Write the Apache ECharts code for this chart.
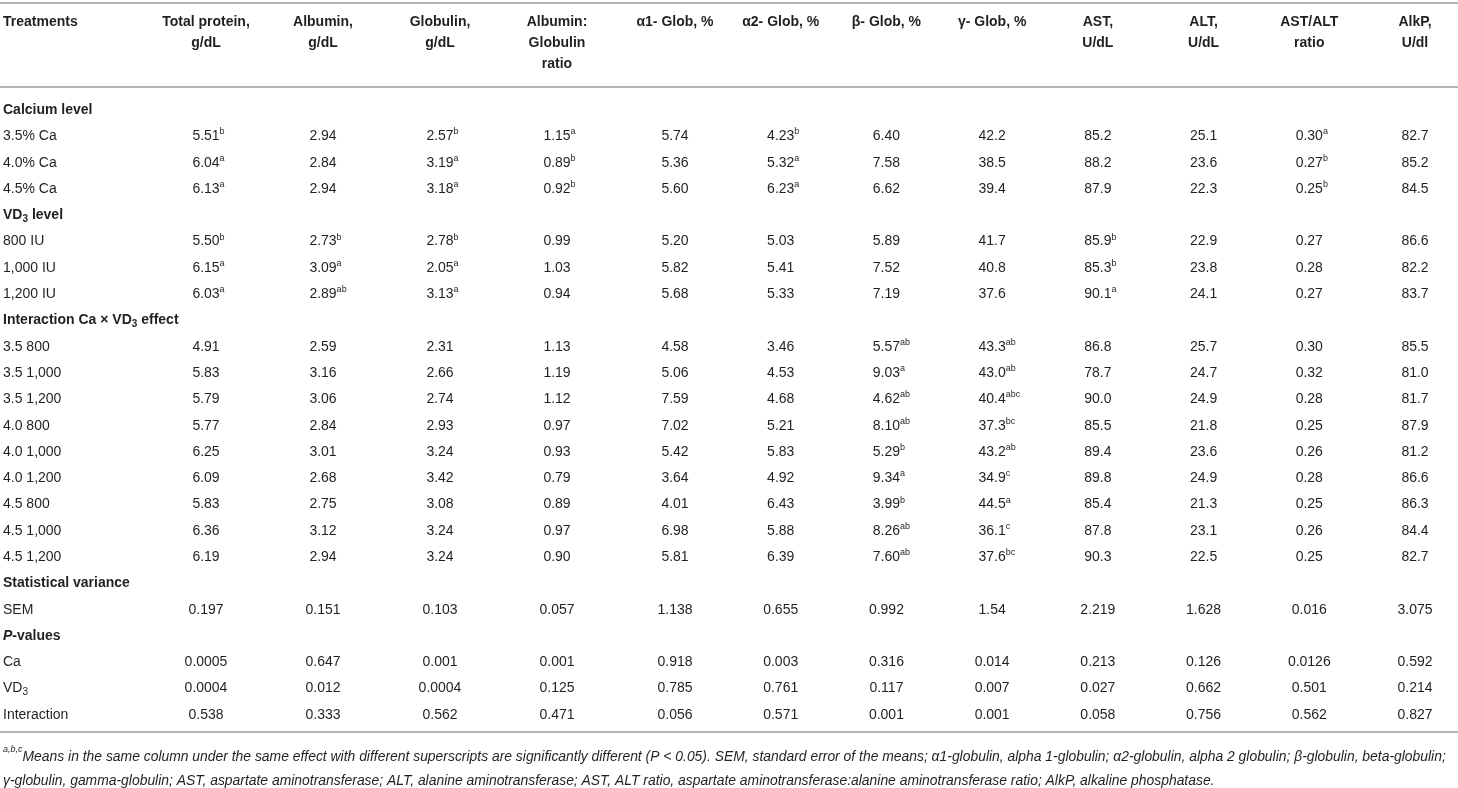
<!DOCTYPE html>
<html>
<head>
<meta charset="utf-8">
<script src="https://cdn.jsdelivr.net/npm/echarts@6.0.0/dist/echarts.min.js"></script>
<style>
  html, body { margin: 0; padding: 0; background: #fff; }
  #chart { width: 1458px; height: 788px; }
</style>
</head>
<body>
<div id="chart"></div>
<script>
const FONT = '"Liberation Sans", Arial, Helvetica, sans-serif';
const INK = '#231f20';

// column headers (first four are wider columns, rest narrower)
const headersLeft = ['Total protein,\ng/dL', 'Albumin,\ng/dL', 'Globulin,\ng/dL', 'Albumin:\nGlobulin\nratio'];
const headersRight = ['α1- Glob, %', 'α2- Glob, %', 'β- Glob, %', 'γ- Glob, %', 'AST,\nU/dL', 'ALT,\nU/dL', 'AST/ALT\nratio', 'AlkP,\nU/dl'];

// row groups
const sectionTitles = ['Calcium level', 'VD3 level', 'Interaction Ca × VD3 effect', 'Statistical variance', 'P-values'];
const sectionSizes = [3, 3, 9, 1, 3];
const rowLabels = [
  '3.5% Ca', '4.0% Ca', '4.5% Ca',
  '800 IU', '1,000 IU', '1,200 IU',
  '3.5 800', '3.5 1,000', '3.5 1,200', '4.0 800', '4.0 1,000', '4.0 1,200', '4.5 800', '4.5 1,000', '4.5 1,200',
  'SEM',
  'Ca', 'VD3', 'Interaction'
];

// values per column (trailing letters are superscripts)
const totalProtein = ['5.51b', '6.04a', '6.13a', '5.50b', '6.15a', '6.03a', '4.91', '5.83', '5.79', '5.77', '6.25', '6.09', '5.83', '6.36', '6.19', '0.197', '0.0005', '0.0004', '0.538'];
const albumin = ['2.94', '2.84', '2.94', '2.73b', '3.09a', '2.89ab', '2.59', '3.16', '3.06', '2.84', '3.01', '2.68', '2.75', '3.12', '2.94', '0.151', '0.647', '0.012', '0.333'];
const globulin = ['2.57b', '3.19a', '3.18a', '2.78b', '2.05a', '3.13a', '2.31', '2.66', '2.74', '2.93', '3.24', '3.42', '3.08', '3.24', '3.24', '0.103', '0.001', '0.0004', '0.562'];
const agRatio = ['1.15a', '0.89b', '0.92b', '0.99', '1.03', '0.94', '1.13', '1.19', '1.12', '0.97', '0.93', '0.79', '0.89', '0.97', '0.90', '0.057', '0.001', '0.125', '0.471'];
const alpha1 = ['5.74', '5.36', '5.60', '5.20', '5.82', '5.68', '4.58', '5.06', '7.59', '7.02', '5.42', '3.64', '4.01', '6.98', '5.81', '1.138', '0.918', '0.785', '0.056'];
const alpha2 = ['4.23b', '5.32a', '6.23a', '5.03', '5.41', '5.33', '3.46', '4.53', '4.68', '5.21', '5.83', '4.92', '6.43', '5.88', '6.39', '0.655', '0.003', '0.761', '0.571'];
const beta = ['6.40', '7.58', '6.62', '5.89', '7.52', '7.19', '5.57ab', '9.03a', '4.62ab', '8.10ab', '5.29b', '9.34a', '3.99b', '8.26ab', '7.60ab', '0.992', '0.316', '0.117', '0.001'];
const gamma = ['42.2', '38.5', '39.4', '41.7', '40.8', '37.6', '43.3ab', '43.0ab', '40.4abc', '37.3bc', '43.2ab', '34.9c', '44.5a', '36.1c', '37.6bc', '1.54', '0.014', '0.007', '0.001'];
const ast = ['85.2', '88.2', '87.9', '85.9b', '85.3b', '90.1a', '86.8', '78.7', '90.0', '85.5', '89.4', '89.8', '85.4', '87.8', '90.3', '2.219', '0.213', '0.027', '0.058'];
const alt = ['25.1', '23.6', '22.3', '22.9', '23.8', '24.1', '25.7', '24.7', '24.9', '21.8', '23.6', '24.9', '21.3', '23.1', '22.5', '1.628', '0.126', '0.662', '0.756'];
const astAltRatio = ['0.30a', '0.27b', '0.25b', '0.27', '0.28', '0.27', '0.30', '0.32', '0.28', '0.25', '0.26', '0.28', '0.25', '0.26', '0.25', '0.016', '0.0126', '0.501', '0.562'];
const alkP = ['82.7', '85.2', '84.5', '86.6', '82.2', '83.7', '85.5', '81.0', '81.7', '87.9', '81.2', '86.6', '86.3', '84.4', '82.7', '3.075', '0.592', '0.214', '0.827'];

const footnote =
  '{fs|a,b,c}{f|Means in the same column under the same effect with different superscripts are significantly different (P < 0.05). SEM, standard error of the means; α1-globulin, alpha 1-globulin; α2-globulin, alpha 2 globulin; β-globulin, beta-globulin;}\n' +
  '{f|γ-globulin, gamma-globulin; AST, aspartate aminotransferase; ALT, alanine aminotransferase; AST, ALT ratio, aspartate aminotransferase:alanine aminotransferase ratio; AlkP, alkaline phosphatase.}';

const columnsLeft = [totalProtein, albumin, globulin, agRatio];
const columnsRight = [alpha1, alpha2, beta, gamma, ast, alt, astAltRatio, alkP];

// y categories: section titles interleaved with rows
const yCats = [];
const sectionSet = new Set(sectionTitles);
const dataRowIndex = [];
let k = 0;
sectionTitles.forEach((t, s) => {
  yCats.push(t);
  for (let i = 0; i < sectionSizes[s]; i++) {
    dataRowIndex.push(yCats.length);
    yCats.push(rowLabels[k++]);
  }
});

function rowLabel(label) {
  if (label === 'P-values') return '{secI|P}{sec|-values}';
  const sec = sectionSet.has(label);
  const st = sec ? 'sec' : 'r';
  const sub = sec ? 'secSub' : 'sub';
  return label.split('VD3').map(seg => seg ? '{' + st + '|' + seg + '}' : '')
    .join('{' + st + '|VD}{' + sub + '|3}');
}

function buildCells(cols) {
  const text = [], data = [];
  cols.forEach((col, c) => {
    col.forEach((v, i) => {
      const m = /^([\d.,]+)([a-c]*)$/.exec(v);
      const num = m[1], sup = m[2];
      // transparent copy of the superscript on the left keeps the number centred
      text.push(sup ? '{p|' + sup + '}{n|' + num + '}{s|' + sup + '}' : '{n|' + num + '}');
      data.push([c, dataRowIndex[i]]);
    });
  });
  return { text, data };
}
const cellsLeft = buildCells(columnsLeft);
const cellsRight = buildCells(columnsRight);

const cellRich = {
  n: { fontSize: 14, lineHeight: 18, fontFamily: FONT, fill: INK },
  s: { fontSize: 9, lineHeight: 10, verticalAlign: 'top', fontFamily: FONT, fill: INK },
  p: { fontSize: 9, lineHeight: 10, verticalAlign: 'top', fontFamily: FONT, fill: 'rgba(0,0,0,0)' }
};

function cellSeries(cells, idx) {
  return {
    type: 'custom',
    xAxisIndex: idx,
    yAxisIndex: idx,
    data: cells.data,
    renderItem(params, api) {
      const p = api.coord([api.value(0), api.value(1)]);
      return {
        type: 'text',
        x: p[0],
        y: p[1],
        style: {
          text: cells.text[params.dataIndex],
          rich: cellRich,
          align: 'center',
          verticalAlign: 'middle',
          fontFamily: FONT,
          fontSize: 14,
          fill: INK
        }
      };
    }
  };
}

const headerLabel = {
  interval: 0,
  margin: 85,
  verticalAlign: 'top',
  fontFamily: FONT,
  fontSize: 14,
  fontWeight: 'bold',
  lineHeight: 21,
  color: INK
};

function xAxisFor(gridIndex, data) {
  return {
    type: 'category',
    gridIndex,
    position: 'top',
    data,
    boundaryGap: false,
    axisLine: { show: false },
    axisTick: { show: false },
    splitLine: { show: false },
    axisLabel: headerLabel
  };
}

function yAxisFor(gridIndex, showLabels) {
  return {
    type: 'category',
    gridIndex,
    inverse: true,
    data: yCats,
    axisLine: { show: false },
    axisTick: { show: false },
    splitLine: { show: false },
    axisLabel: {
      show: showLabels,
      interval: 0,
      margin: 203,
      align: 'left',
      formatter: rowLabel,
      rich: {
        r: { fontFamily: FONT, fontSize: 14, lineHeight: 18, color: INK },
        sub: { fontFamily: FONT, fontSize: 10, lineHeight: 10, verticalAlign: 'bottom', color: INK },
        sec: { fontFamily: FONT, fontSize: 14, fontWeight: 'bold', lineHeight: 18, color: INK },
        secI: { fontFamily: FONT, fontSize: 14, fontWeight: 'bold', fontStyle: 'italic', lineHeight: 18, color: INK },
        secSub: { fontFamily: FONT, fontSize: 10, fontWeight: 'bold', lineHeight: 10, verticalAlign: 'bottom', color: INK }
      }
    }
  };
}

const ruleStyle = { stroke: '#b4b4b4', lineWidth: 2 };

const chart = echarts.init(document.getElementById('chart'), null, { renderer: 'canvas' });
chart.setOption({
  backgroundColor: '#fff',
  animation: false,
  title: [
    {
      text: 'Treatments', left: 3, top: 12, padding: 0,
      textStyle: { fontFamily: FONT, fontSize: 14, fontWeight: 'bold', lineHeight: 21, color: INK }
    },
    {
      text: footnote, left: 3, top: 745, padding: 0,
      textStyle: {
        fontFamily: FONT, fontSize: 14, fontStyle: 'italic', fontWeight: 'normal', lineHeight: 24, color: INK,
        rich: {
          f: { fontFamily: FONT, fontSize: 13.9, fontStyle: 'italic', lineHeight: 24, color: INK },
          fs: { fontFamily: FONT, fontSize: 9, fontStyle: 'italic', lineHeight: 12, verticalAlign: 'top', color: INK }
        }
      }
    }
  ],
  graphic: [
    { type: 'line', shape: { x1: 0, y1: 3, x2: 1458, y2: 3 }, style: ruleStyle },
    { type: 'line', shape: { x1: 0, y1: 87, x2: 1458, y2: 87 }, style: ruleStyle },
    { type: 'line', shape: { x1: 0, y1: 732, x2: 1458, y2: 732 }, style: ruleStyle }
  ],
  grid: [
    { left: 206, right: 901, top: 97, bottom: 60 },
    { left: 675, right: 43, top: 97, bottom: 60 }
  ],
  xAxis: [xAxisFor(0, headersLeft), xAxisFor(1, headersRight)],
  yAxis: [yAxisFor(0, true), yAxisFor(1, false)],
  series: [cellSeries(cellsLeft, 0), cellSeries(cellsRight, 1)]
});
</script>
</body>
</html>
